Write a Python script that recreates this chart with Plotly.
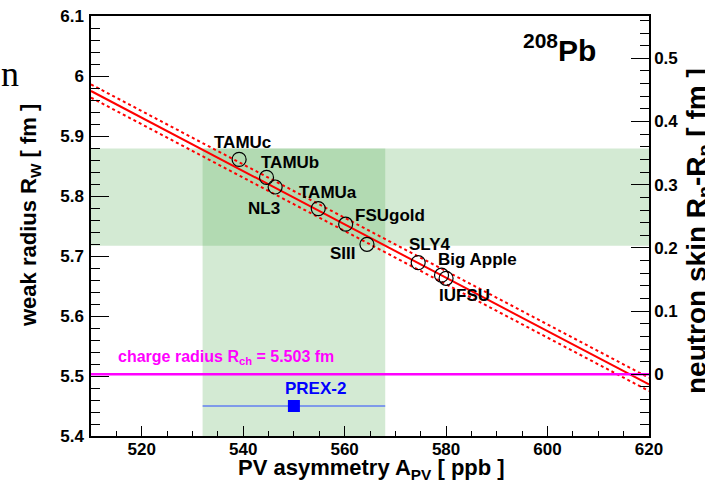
import plotly.graph_objects as go

# ---- data ----
model_names = ["TAMUc", "TAMUb", "NL3", "TAMUa", "FSUgold", "SIII", "SLY4", "Big Apple", "IUFSU"]
model_apv = [539.2, 544.6, 546.3, 554.8, 560.2, 564.4, 574.5, 579.1, 580.0]
model_rw = [5.861, 5.831, 5.815, 5.779, 5.753, 5.7195, 5.689, 5.668, 5.6628]

fit_apv = [510, 620]
fit_rw = [5.975, 5.486]
fit_rw_hi = [5.986, 5.497]
fit_rw_lo = [5.964, 5.475]

rch = 5.503
prex_apv = 550.0
prex_apv_err = 18.0
prex_rw = 5.798
prex_rw_err = 0.081
prex_marker_rw = 5.45

x_ticks = [520, 540, 560, 580, 600, 620]
y_ticks = [5.4, 5.5, 5.6, 5.7, 5.8, 5.9, 6.0, 6.1]
y_tick_labels = ["5.4", "5.5", "5.6", "5.7", "5.8", "5.9", "6", "6.1"]
skin_ticks = [0, 0.1, 0.2, 0.3, 0.4, 0.5]
skin_tick_labels = ["0", "0.1", "0.2", "0.3", "0.4", "0.5"]

# ---- styles ----
FONT = "Liberation Sans, Arial, sans-serif"
label_shift = {
    "TAMUc": (3, 17), "TAMUb": (23, 15), "NL3": (-11, -21), "TAMUa": (10, 16),
    "FSUgold": (44, 9), "SIII": (-24, -9), "SLY4": (12, 18),
    "Big Apple": (36, 16), "IUFSU": (18, -17),
}
W, H = 705, 491
PW, PH = 558, 420
L, T = 91, 16
R, B = W - L - PW, H - T - PH


def px(xp):
    return (xp - L) / PW


def py(yp):
    return (T + PH - yp) / PH


fig = go.Figure()

# bands
band_col = "rgba(80,170,80,0.25)"
fig.add_shape(type="rect", xref="x", yref="y", layer="below",
              x0=fit_apv[0], x1=fit_apv[1],
              y0=prex_rw - prex_rw_err, y1=prex_rw + prex_rw_err,
              fillcolor=band_col, line_width=0)
fig.add_shape(type="rect", xref="x", yref="y", layer="below",
              x0=prex_apv - prex_apv_err, x1=prex_apv + prex_apv_err,
              y0=y_ticks[0], y1=prex_rw + prex_rw_err,
              fillcolor=band_col, line_width=0)

# fit lines
fig.add_trace(go.Scatter(x=fit_apv, y=fit_rw_hi, mode="lines",
                         line=dict(color="#ff0000", width=2, dash="3px,3px"), showlegend=False))
fig.add_trace(go.Scatter(x=fit_apv, y=fit_rw_lo, mode="lines",
                         line=dict(color="#ff0000", width=2, dash="3px,3px"), showlegend=False))
fig.add_trace(go.Scatter(x=fit_apv, y=fit_rw, mode="lines",
                         line=dict(color="#ff0000", width=2), showlegend=False))

# charge radius
fig.add_trace(go.Scatter(x=fit_apv, y=[rch, rch], mode="lines",
                         line=dict(color="#ff00ff", width=2.5), showlegend=False))

# models
fig.add_trace(go.Scatter(x=model_apv, y=model_rw, mode="markers",
                         marker=dict(symbol="circle-open", size=14, color="black",
                                     line=dict(width=1.2, color="black")),
                         showlegend=False))

# PREX-2 point
fig.add_trace(go.Scatter(x=[prex_apv], y=[prex_marker_rw], mode="markers",
                         marker=dict(symbol="square", size=12, color="#0000ff"),
                         error_x=dict(type="data", array=[prex_apv_err], color="#2a4bff",
                                      thickness=1, width=0),
                         showlegend=False))

# dummy trace for right axis
fig.add_trace(go.Scatter(x=[fit_apv[0]], y=[0], yaxis="y2", mode="markers",
                         marker=dict(opacity=0), showlegend=False, hoverinfo="skip"))

ann = []
for n, xv, yv in zip(model_names, model_apv, model_rw):
    dx, dy = label_shift[n]
    ann.append(dict(x=xv, y=yv, xref="x", yref="y", text=n, showarrow=False,
                    xshift=dx, yshift=dy,
                    font=dict(family=FONT, size=17, color="black", weight="bold")))

ann.append(dict(x=prex_apv, y=prex_marker_rw, xref="x", yref="y", text="PREX-2",
                showarrow=False, xshift=22, yshift=18,
                font=dict(family=FONT, size=17, color="#0000ff", weight="bold")))
ann.append(dict(x=px(116), y=py(357), xref="paper", yref="paper",
                text="charge radius R<sub>ch</sub> = %.3f fm" % rch, showarrow=False,
                xanchor="left", yanchor="middle",
                font=dict(family=FONT, size=16, color="#ff00ff", weight="bold")))
ann.append(dict(x=px(598), y=py(48), xref="paper", yref="paper",
                text="<sup>208</sup>Pb", showarrow=False, xanchor="right", yanchor="middle",
                font=dict(family=FONT, size=30, color="black", weight="bold")))
ann.append(dict(x=px(371), y=py(469), xref="paper", yref="paper",
                text="PV asymmetry A<sub>PV</sub> [ ppb ]", showarrow=False,
                xanchor="center", yanchor="middle",
                font=dict(family=FONT, size=22, color="black", weight="bold")))
ann.append(dict(x=px(30), y=py(216), xref="paper", yref="paper",
                text="weak radius R<sub>W</sub> [ fm ]", showarrow=False, textangle=-90,
                xanchor="center", yanchor="middle",
                font=dict(family=FONT, size=22, color="black", weight="bold")))
ann.append(dict(x=px(698), y=py(66), xref="paper", yref="paper",
                text="neutron skin R<sub>n</sub>-R<sub>p</sub> [ fm ]", showarrow=False,
                textangle=-90, xanchor="center", yanchor="top",
                font=dict(family=FONT, size=28, color="black", weight="bold")))
ann.append(dict(x=px(21), y=py(74), xref="paper", yref="paper",
                text="n", showarrow=False, xanchor="right", yanchor="middle",
                font=dict(family="Liberation Serif, serif", size=36, color="black")))

tickfont = dict(family=FONT, size=17, color="black", weight="bold")
fig.update_layout(
    width=W, height=H, margin=dict(l=L, r=R, t=T, b=B, autoexpand=False),
    paper_bgcolor="white", plot_bgcolor="white",
    annotations=ann,
    xaxis=dict(range=[fit_apv[0], fit_apv[1]], tickvals=x_ticks, ticks="inside",
               ticklen=10, tickwidth=1.3, tickcolor="black", automargin=False,
               ticklabelstandoff=-3, ticklabeloverflow="allow",
               minor=dict(dtick=5, tick0=500, ticks="inside", ticklen=5, tickwidth=1.3, tickcolor="black"),
               showline=True, linecolor="black", linewidth=1.5, mirror=True,
               showgrid=False, zeroline=False, tickfont=tickfont),
    yaxis=dict(range=[y_ticks[0], y_ticks[-1]], tickvals=y_ticks, ticktext=y_tick_labels,
               ticks="inside", ticklen=18, tickwidth=1.3, tickcolor="black", automargin=False,
               ticklabelstandoff=2, ticklabeloverflow="allow",
               minor=dict(dtick=0.02, tick0=5.4, ticks="inside", ticklen=9, tickwidth=1.3, tickcolor="black"),
               showline=True, linecolor="black", linewidth=1.5, mirror=True,
               showgrid=False, zeroline=False, tickfont=tickfont),
    yaxis2=dict(overlaying="y", side="right", range=[-0.0976, 0.567],
                tickvals=skin_ticks, ticktext=skin_tick_labels, automargin=False,
                ticklabeloverflow="allow",
                ticks="inside", ticklen=18, tickwidth=1.3, tickcolor="black",
                minor=dict(dtick=0.02, tick0=0, ticks="inside", ticklen=9, tickwidth=1.3, tickcolor="black"),
                showline=True, linecolor="black", linewidth=1.5,
                showgrid=False, zeroline=False, tickfont=tickfont),
)

fig.write_html("out.html", config={"displayModeBar": False},
               post_script="document.body.style.margin='0px';")
